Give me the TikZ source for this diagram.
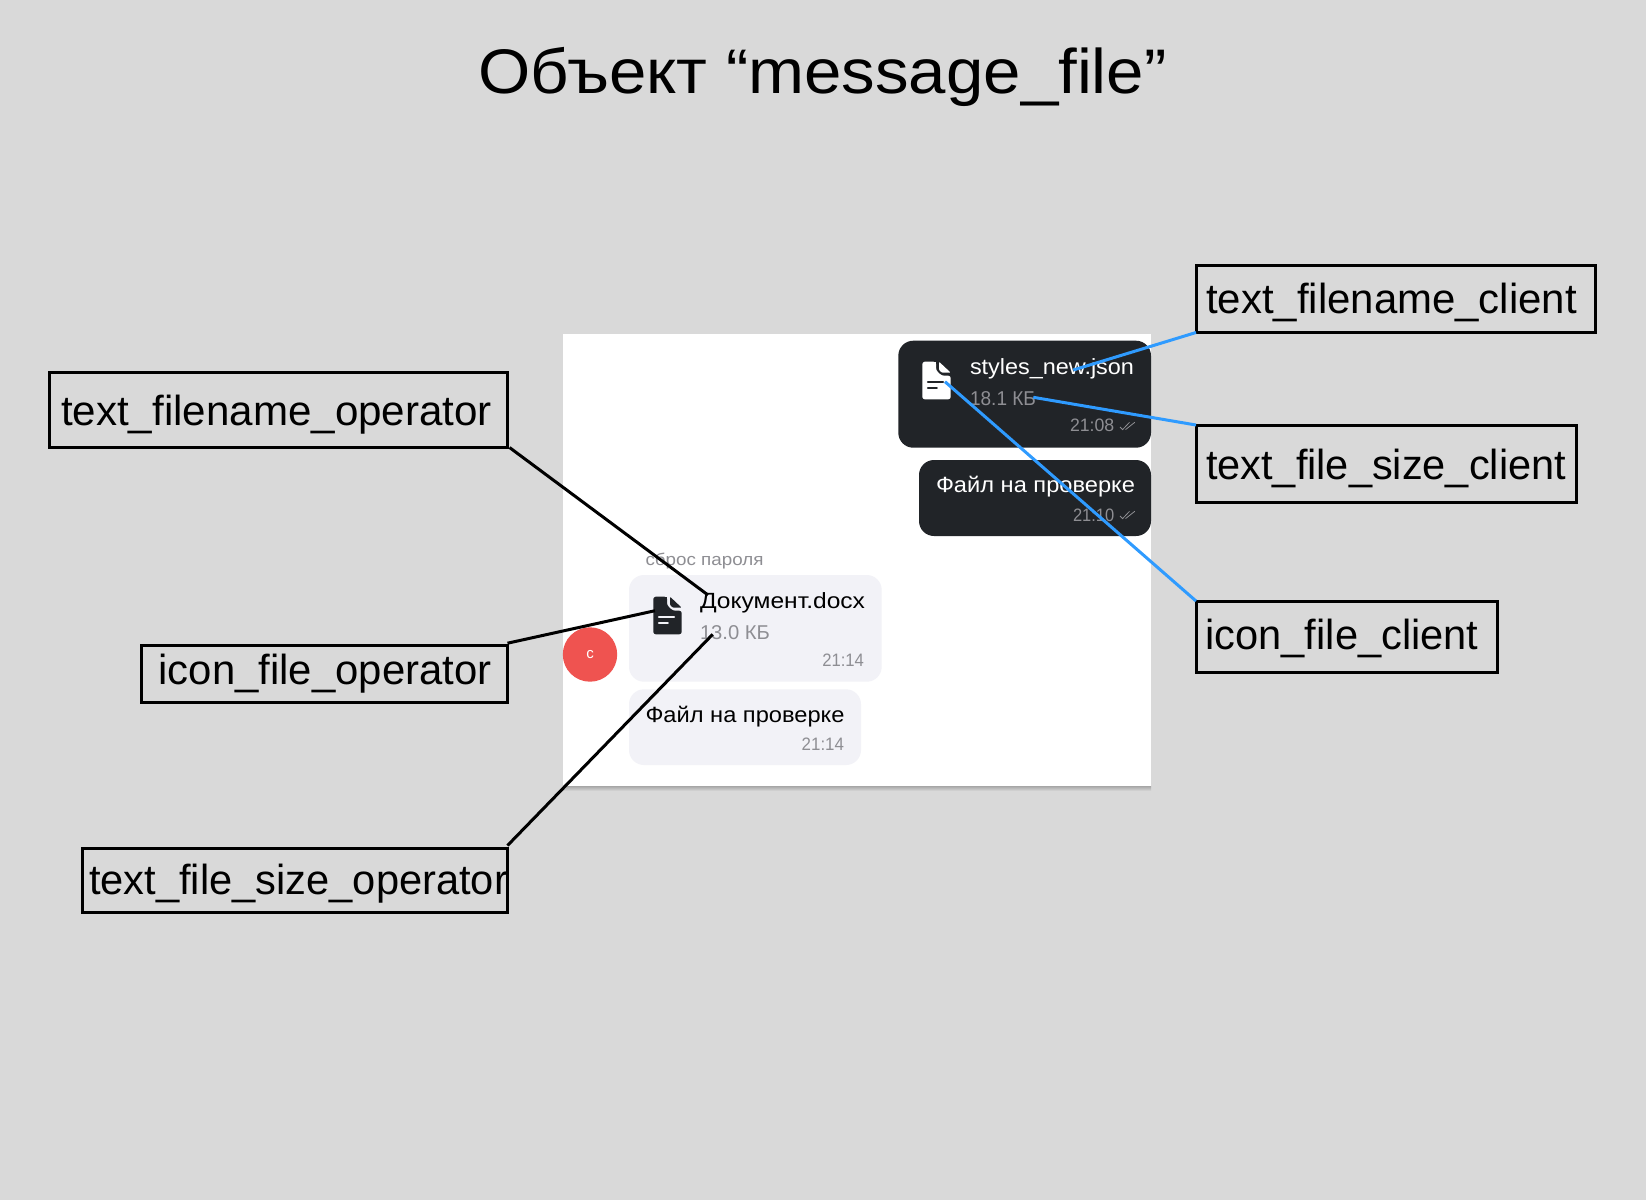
\documentclass[tikz,border=0pt]{standalone}
\usepackage{graphicx}
\usepackage{fontspec}
\setmainfont{Liberation Sans}
\definecolor{bg}{HTML}{D9D9D9}
\definecolor{dark}{HTML}{212428}
\definecolor{light}{HTML}{F2F2F7}
\definecolor{muted}{HTML}{8E8E93}
\definecolor{red1}{HTML}{EF5350}
\definecolor{blue1}{HTML}{2F9BFF}
\definecolor{ink}{HTML}{000000}
\newsavebox{\fitb}
\newcommand{\fitw}[2]{\sbox{\fitb}{#2}\pgfmathsetmacro{\fitr}{#1/\the\wd\fitb*1pt}\scalebox{\fitr}[1]{\usebox{\fitb}}}
\newcommand{\labbox}[9]{%
  \pgfmathsetmacro{\bw}{#4-#2}\pgfmathsetmacro{\bh}{#5-#3}%
  \pgfmathsetmacro{\bdx}{#6-#2}\pgfmathsetmacro{\bdy}{(#3+#5)/2-#7}%
  \node[labelbox,minimum width=\bw pt,minimum height=\bh pt] (#1) at ({(#2+#4)/2},{(#3+#5)/2})
    {\hbox to \bw pt{\hspace*{\bdx pt}\raisebox{\bdy pt}[0pt][0pt]{\fitw{#8}{#9}}\hss}};}
\newcommand{\txt}[7]{\node[anchor=base west,inner sep=0pt,outer sep=0pt,font=\fontsize{#5}{#5}\selectfont,text=#6] (#1) at (#2,#3) {\fitw{#4}{#7}};}
\newcommand{\fileicon}[4]{%
  \begin{scope}[shift={(#1,#2)}]
    \fill[#3,rounded corners=2.5pt] (0,0) -- (13.7,0) -- (13.7,8.5) -- (19.4,14) -- (28.4,14) -- (28.4,37.6) -- (0,37.6) -- cycle;
    \fill[#3] (12,0) rectangle (13.7,3);
    \fill[#3,rounded corners=1pt] (16.7,0) -- (28.4,11) -- (19.7,11) -- (16.7,8.3) -- cycle;
    \draw[#4,line width=2.2pt,line cap=round] (5.7,20) -- (20.7,20);
    \draw[#4,line width=2.2pt,line cap=round] (5.7,26) -- (14.5,26);
  \end{scope}}
\newcommand{\ticks}[2]{%
  \begin{scope}[shift={(0,#1)}]
    \draw[#2,line width=0.8pt] (1120,427) -- (1122.6,429.6) -- (1129.5,422.3);
    \draw[#2,line width=0.8pt] (1125.5,429.6) -- (1134.8,422.3);
  \end{scope}}
\tikzset{
  labelbox/.style={draw=black,line width=3pt,inner sep=0pt,outer sep=0pt,anchor=center,font=\fontsize{42}{42}\selectfont,text=ink},
  bubble/.style={rounded corners=15pt},
  linkdark/.style={draw=black,line width=3pt},
  linkblue/.style={draw=blue1,line width=3pt},
}
\begin{document}
\begin{tikzpicture}[x=1pt,y=-1pt]
\useasboundingbox (0,0) rectangle (1646,1200);
\fill[bg] (0,0) rectangle (1646,1200);

% title
\txt{title}{478.7}{93}{688}{63}{ink}{Объект “message\_file”}

% chat panel
\shade[top color=black!35,bottom color=bg] (563,786) rectangle (1151,791);
\fill[white] (563,334) rectangle (1151,786);

% client bubbles
\fill[dark,bubble] (898.3,340.7) rectangle (1151,447.7);
\fill[dark,bubble] (919,460) rectangle (1151,536);
\fileicon{922.3}{361.7}{white}{dark}
\txt{cname}{970}{374}{164}{22}{white}{styles\_new.json}
\txt{csize}{970}{405}{66}{20}{muted}{18.1 КБ}
\txt{ctimea}{1070}{431.7}{44.3}{18}{muted}{21:08}
\ticks{0}{muted}
\txt{cmsg}{936}{492.3}{199}{22}{white}{Файл на проверке}
\txt{ctimeb}{1073}{521}{41.3}{18}{muted}{21:10}
\ticks{89}{muted}

% operator bubbles
\txt{caption}{645.5}{565}{118}{17}{muted}{сброс пароля}
\fill[light,bubble] (629,575) rectangle (881.7,681.7);
\fill[light,bubble] (629,689.3) rectangle (861,765);
\node[circle,fill=red1,minimum size=54.4pt,inner sep=0pt,outer sep=0pt,text=white,font=\fontsize{15}{15}\selectfont] (avatar) at (590,654.5) {с};
\fileicon{653.3}{596.7}{dark}{light}
\txt{oname}{700}{608.3}{165}{22}{ink}{Документ.docx}
\txt{osize}{700}{639}{70}{20}{muted}{13.0 КБ}
\txt{otimea}{822.3}{666.7}{41.7}{18}{muted}{21:14}
\txt{omsg}{645.5}{722.3}{199}{22}{ink}{Файл на проверке}
\txt{otimeb}{801.7}{750}{42.3}{18}{muted}{21:14}

% label boxes
\labbox{bfo}{49.5}{372}{507.5}{447.5}{61}{425.3}{431}{text\_filename\_operator}
\labbox{bio}{141}{645.7}{507.5}{702.5}{158.5}{684.3}{333}{icon\_file\_operator}
\labbox{bso}{82}{848}{507.5}{912.5}{89}{894.3}{419}{text\_file\_size\_operator}
\labbox{bfc}{1196}{265}{1595}{332.5}{1206}{313.3}{371}{text\_filename\_client}
\labbox{bsc}{1196}{425}{1576}{502}{1206}{479.3}{360}{text\_file\_size\_client}
\labbox{bic}{1196}{601}{1497}{672.5}{1205.5}{649.3}{273}{icon\_file\_client}

% connector ends
\coordinate (efo) at (708,595);
\coordinate (eio) at (655,610.7);
\coordinate (eso) at (712.7,634.3);
\coordinate (efc) at (1073.3,370);
\coordinate (esc) at (1033.3,397.3);
\coordinate (eic) at (945,381.7);

\draw[linkdark] ([xshift=2pt]bfo.south east) -- (efo);
\draw[linkdark] ([yshift=2.5pt]bio.north east) -- (eio);
\draw[linkdark] ([yshift=2.5pt]bso.north east) -- (eso);
\draw[linkblue] (bfc.south west) -- (efc);
\draw[linkblue] (bsc.north west) -- (esc);
\draw[linkblue] (bic.north west) -- (eic);
\end{tikzpicture}
\end{document}
